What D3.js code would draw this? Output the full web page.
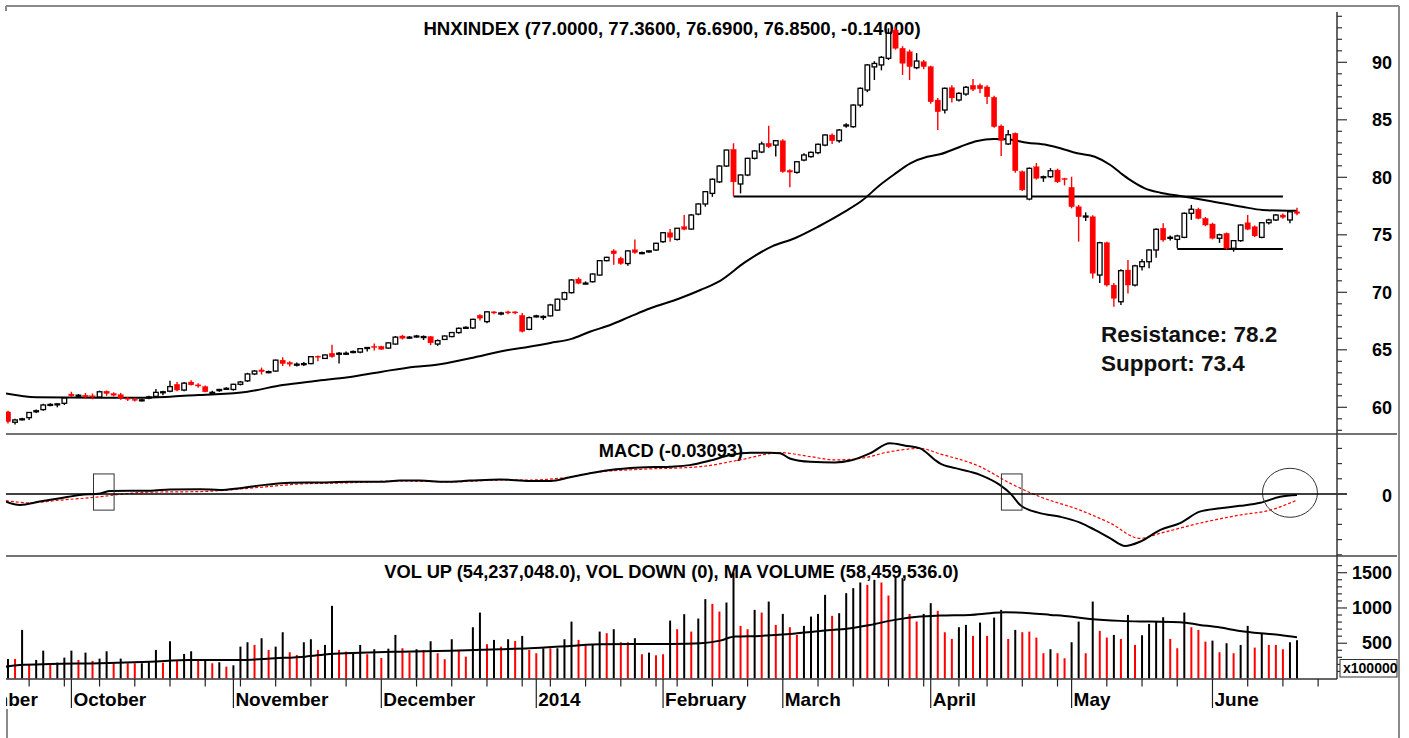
<!DOCTYPE html>
<html lang="en">
<head>
<meta charset="UTF-8">
<title>HNXINDEX</title>
<script src="https://d3js.org/d3.v7.min.js"></script>
<style>
  body { margin: 0; background: #fff; }
  svg { display: block; font-family: "Liberation Sans", Arial, sans-serif; font-weight: bold; }
</style>
</head>
<body>
<svg id="chart" width="1409" height="738"></svg>
<script>
// ---- data ----
const months = ["September", "October", "November", "December", "2014", "February", "March", "April", "May", "June"];
const monthStart = [-10, 9, 32, 53, 75, 93, 110, 131, 151, 171];
const weekTicks = [3, 8, 13, 18, 23, 28, 33, 38, 43, 48, 58, 63, 68, 73, 77, 82, 87, 92, 95, 100, 105, 115, 120, 125, 130, 135, 139, 144, 149, 156, 161, 166, 176, 181, 186];

// [open, high, low, close] per trading day
const ohlc = [
  [59.6,59.7,58.6,58.75],[58.7,59.0,58.5,58.9],[58.95,59.1,58.85,59.0],[59.1,59.6,58.9,59.55],[59.65,59.8,59.5,59.7],
  [59.8,60.3,59.7,60.2],[60.2,60.35,60.1,60.25],[60.25,60.35,60.0,60.3],[60.35,60.85,60.2,60.8],[61.15,61.35,60.9,61.0],
  [61.0,61.15,60.85,61.05],[61.05,61.25,60.75,60.9],[61.0,61.2,60.7,60.9],[60.9,61.45,60.85,61.35],[61.4,61.45,61.0,61.2],
  [61.2,61.3,60.95,61.05],[61.1,61.25,60.65,60.8],[60.8,60.9,60.55,60.7],[60.7,60.8,60.5,60.6],[60.6,60.75,60.5,60.65],
  [60.8,61.0,60.7,60.9],[60.95,61.6,60.9,61.3],[61.3,61.45,61.05,61.35],[61.4,62.3,61.3,61.8],[62.0,62.2,61.4,61.5],
  [61.5,62.2,61.4,62.1],[62.2,62.35,61.9,61.95],[61.95,62.1,61.7,61.85],[61.8,61.9,61.3,61.35],[61.3,61.45,61.2,61.3],
  [61.45,61.6,61.35,61.55],[61.6,61.75,61.5,61.65],[61.55,62.05,61.45,62.0],[62.0,62.3,61.9,62.2],[62.3,63.0,62.2,62.9],
  [62.9,63.25,62.8,63.15],[63.25,63.45,62.85,63.1],[63.05,63.2,62.95,63.1],[63.15,64.15,63.1,64.1],[64.1,64.35,63.6,63.8],
  [63.9,64.0,63.55,63.75],[63.75,63.9,63.55,63.75],[63.8,63.95,63.6,63.8],[63.8,64.45,63.75,64.4],[64.45,64.5,64.0,64.35],
  [64.25,64.6,64.2,64.55],[64.7,65.45,64.3,64.4],[64.65,64.8,63.8,64.7],[64.7,64.85,64.55,64.7],[64.8,64.95,64.7,64.85],
  [64.8,65.15,64.7,65.1],[65.15,65.25,64.85,65.2],[65.3,65.55,64.95,65.2],[65.3,65.35,65.0,65.05],[65.15,65.65,65.1,65.6],
  [65.5,66.2,65.45,66.1],[66.2,66.3,65.9,66.0],[66.05,66.2,65.95,66.1],[66.15,66.3,66.05,66.2],[66.15,66.25,65.85,66.15],
  [66.15,66.2,65.4,65.6],[65.5,65.9,65.35,65.8],[65.9,66.25,65.85,66.2],[66.15,66.55,66.1,66.5],[66.5,66.95,66.4,66.87],
  [66.9,67.05,66.8,66.95],[66.9,67.7,66.8,67.65],[68.0,68.1,67.55,67.75],[67.45,68.35,67.3,68.3],[68.3,68.35,68.1,68.2],
  [68.2,68.3,68.0,68.2],[68.3,68.4,68.1,68.2],[68.3,68.35,68.1,68.2],[68.0,68.2,66.5,66.6],[66.78,67.9,66.7,67.8],
  [67.9,68.05,67.8,67.95],[67.9,68.0,67.6,67.9],[67.95,69.0,67.9,68.9],[68.45,69.45,68.4,69.4],[69.4,70.05,69.3,69.97],
  [69.97,71.15,69.9,71.07],[71.15,71.3,70.7,70.78],[70.8,70.95,70.7,70.8],[70.92,71.65,70.85,71.59],[71.5,72.8,71.45,72.75],
  [72.75,73.1,72.7,73.04],[73.6,73.75,72.4,73.35],[72.96,73.1,72.4,72.5],[72.5,73.65,72.3,73.6],[73.7,74.6,73.35,73.45],
  [73.45,73.55,73.3,73.45],[73.55,73.65,73.45,73.6],[73.68,74.3,73.6,74.26],[74.4,75.25,74.3,75.18],[75.18,75.5,74.4,74.78],
  [74.6,75.6,74.5,75.57],[75.7,76.72,75.4,75.48],[75.5,76.8,75.45,76.72],[76.8,77.75,76.7,77.68],[77.68,78.8,77.45,78.75],
  [78.6,79.9,78.3,79.83],[79.6,81.05,79.5,80.98],[80.98,82.4,80.9,82.37],[82.43,82.96,78.37,79.6],[79.42,80.25,78.6,80.2],
  [80.2,81.7,80.1,81.65],[81.65,82.35,81.55,82.29],[82.2,83.1,82.1,82.9],[82.96,84.49,82.55,82.66],[82.8,83.25,81.8,83.18],
  [83.18,83.3,80.4,80.49],[80.6,80.7,79.13,80.45],[80.43,81.4,80.3,81.35],[81.5,82.1,81.4,81.94],[81.8,82.25,81.7,82.17],
  [82.14,82.95,82.0,82.87],[82.8,83.75,82.7,83.68],[83.68,83.8,82.9,83.18],[83.18,84.2,83.0,84.11],[84.5,84.7,84.3,84.55],
  [84.4,86.35,84.3,86.28],[86.28,87.8,86.1,87.74],[87.59,89.85,87.4,89.77],[89.6,90.1,88.46,89.9],[89.77,90.55,89.3,90.43],
  [90.35,92.96,90.2,92.52],[92.8,93.1,91.1,91.22],[91.22,91.4,88.9,89.91],[90.92,91.1,88.46,89.62],[89.53,90.8,89.4,90.11],
  [90.05,90.2,89.4,89.62],[89.62,89.7,86.4,86.57],[86.72,86.9,84.11,85.7],[85.85,87.8,85.55,87.74],[87.8,88.0,86.5,86.9],
  [86.72,87.4,86.6,87.3],[87.24,87.95,87.1,87.83],[88.0,88.55,87.5,87.65],[88.0,88.15,87.3,87.7],[87.86,88.0,86.37,87.0],
  [86.96,87.1,84.3,84.4],[84.46,84.6,81.85,83.2],[82.9,84.11,82.8,83.7],[83.83,83.9,80.4,80.57],[80.49,80.6,78.8,78.9],
  [78.11,80.85,78.0,80.78],[80.92,81.24,79.8,79.91],[80.05,80.15,79.6,80.05],[80.05,80.8,79.95,80.57],[80.63,80.75,79.5,79.6],
  [79.9,79.95,79.3,79.8],[79.13,80.05,77.3,77.44],[77.44,77.6,74.4,76.57],[76.63,76.95,76.2,76.63],[76.57,76.7,71.2,71.65],
  [71.5,74.4,70.8,74.31],[74.31,74.4,70.5,70.63],[70.63,70.8,68.75,69.47],[69.18,72.0,68.9,71.88],[71.94,72.81,69.9,70.63],
  [70.63,72.4,70.5,72.3],[72.23,72.9,71.9,72.66],[72.66,73.75,72.1,73.68],[73.68,75.55,73.0,75.48],[75.57,76.0,74.4,74.55],
  [74.78,74.95,74.5,74.78],[74.6,75.0,73.83,74.9],[74.78,76.95,74.7,76.87],[76.87,77.6,76.3,77.22],[77.22,77.35,76.35,76.43],
  [76.43,76.55,75.75,75.85],[75.94,76.05,74.6,74.7],[74.7,75.1,74.3,75.0],[75.13,75.2,73.7,73.83],[73.83,74.55,73.53,74.49],
  [74.49,75.9,74.4,75.85],[76.05,76.72,75.4,75.48],[75.7,75.8,74.8,74.9],[74.78,76.1,74.7,76.05],[76.05,76.4,75.9,76.29],
  [76.29,76.8,76.2,76.72],[76.72,76.85,76.4,76.52],[76.29,77.1,76.0,77.0],[77.0,77.36,76.69,76.85]
];

// moving average of price, read at sample bars
const maIdx = [-0.3, 4, 13, 19, 23, 27, 29.5, 34, 39, 43.6, 48.3, 53.1, 57.8, 60.6, 65.6, 70.8, 74, 77, 80, 82.6, 85.5, 88.3, 91.2, 95.4, 98.3, 101.1, 104.6, 108.4, 111.7, 115, 118.8, 121.3, 123.8, 125.7, 128.1, 130.5, 132.3, 135.2, 137.6, 139.9, 141.8, 144.7, 147.5, 149.4, 151.8, 154.3, 156.5, 157.9, 159.3, 161.4, 163.6, 166.4, 170.4, 175.2, 178.1, 181.7, 183];
const maVal = [61.2, 60.87, 60.83, 60.83, 60.92, 61.07, 61.13, 61.36, 61.94, 62.29, 62.61, 63.1, 63.53, 63.68, 64.26, 64.96, 65.27, 65.6, 65.95, 66.57, 67.16, 67.88, 68.61, 69.48, 70.2, 71.0, 72.6, 73.97, 74.7, 75.7, 77.01, 78.0, 79.33, 80.2, 81.22, 81.79, 82.0, 82.66, 83.16, 83.33, 83.3, 83.01, 82.81, 82.52, 82.09, 81.79, 81.07, 80.4, 79.77, 79.04, 78.66, 78.37, 77.97, 77.44, 77.16, 77.1, 77.1];

// MACD and its signal line
const macdIdx = [-0.3, 1.7, 4.5, 7.4, 10.2, 13.1, 14.5, 20.2, 23, 27.3, 30.1, 32.9, 36.5, 40, 44.3, 48.6, 52.8, 55.7, 58.5, 62, 65.6, 69.9, 74.1, 77, 79.8, 82.6, 85.5, 89.7, 94, 96.8, 99.7, 102.5, 105.4, 108.2, 109.6, 111, 113.9, 117.4, 119.6, 122.4, 125.2, 127.4, 129.5, 131.6, 132.3, 134.5, 138, 140.8, 142.3, 143.7, 146.5, 149.4, 152.2, 154.3, 156.5, 158.6, 160.7, 163.6, 166.4, 169.2, 172.1, 174.9, 177.8, 180.6, 183];
const macdVal = [-0.25, -0.36, -0.25, -0.14, -0.03, 0.02, 0.10, 0.11, 0.15, 0.16, 0.13, 0.19, 0.30, 0.37, 0.38, 0.40, 0.40, 0.44, 0.44, 0.40, 0.44, 0.48, 0.43, 0.43, 0.55, 0.68, 0.79, 0.87, 0.90, 0.95, 1.10, 1.28, 1.36, 1.36, 1.34, 1.17, 1.06, 1.04, 1.10, 1.34, 1.67, 1.59, 1.50, 1.12, 1.01, 0.85, 0.63, 0.30, 0.02, -0.36, -0.63, -0.75, -0.94, -1.18, -1.46, -1.71, -1.57, -1.18, -0.96, -0.58, -0.47, -0.39, -0.29, -0.09, -0.03];
const sigIdx = [-0.3, 3.1, 7.4, 13.1, 15.9, 20.2, 27.3, 35.8, 41.5, 48.6, 55.7, 62.8, 69.9, 74.1, 78.4, 84.1, 89.7, 98.3, 103.9, 109.6, 113.9, 117.4, 121, 125.2, 129.5, 132.3, 138, 142.3, 146.5, 152.2, 156.5, 160.7, 163.6, 169.2, 174.9, 179.2, 183];
const sigVal = [-0.22, -0.29, -0.20, -0.09, -0.01, 0.06, 0.08, 0.22, 0.33, 0.37, 0.43, 0.40, 0.46, 0.46, 0.52, 0.73, 0.81, 0.90, 1.12, 1.36, 1.23, 1.12, 1.17, 1.39, 1.50, 1.32, 0.90, 0.35, -0.09, -0.53, -0.96, -1.46, -1.29, -0.96, -0.69, -0.53, -0.20];

// volume in units of 100,000 shares; 1 = up (black), 0 = down (red)
const volume = [
  277, 277, 689, 192, 263, 395, 192, 225, 296, 395,
  263, 367, 249, 282, 386, 216, 282, 216, 216, 216,
  230, 405, 225, 528, 263, 348, 386, 249, 254, 216,
  230, 168, 187, 452, 514, 476, 571, 405, 452, 656,
  372, 334, 514, 557, 405, 476, 1030, 405, 381, 348,
  476, 344, 415, 291, 423, 618, 429, 367, 415, 405,
  528, 358, 273, 557, 405, 310, 727, 935, 486, 547,
  452, 557, 533, 604, 405, 358, 429, 429, 429, 557,
  807, 547, 476, 486, 665, 642, 699, 514, 514, 571,
  344, 367, 329, 344, 821, 699, 912, 665, 850, 1125,
  1058, 949, 1077, 1500, 746, 699, 973, 935, 1091, 760,
  916, 727, 618, 746, 878, 916, 1186, 888, 926, 1210,
  1281, 1361, 1328, 1399, 1361, 1176, 1446, 1423, 916, 807,
  916, 1068, 959, 656, 561, 727, 760, 604, 793, 604,
  864, 973, 561, 689, 656, 665, 580, 358, 415, 358,
  287, 514, 807, 358, 1091, 675, 580, 618, 561, 902,
  476, 613, 774, 807, 869, 561, 429, 935, 727, 689,
  523, 537, 372, 500, 358, 476, 746, 438, 632, 476,
  476, 415, 514, 542
];
const volUp = [
  1,0,1,0,1,1,0,1,1,1, 0,1,0,1,1,0,1,0,0,1, 1,1,0,1,0,1,1,0,1,0,
  1,0,1,1,1,0,1,0,1,1, 0,0,1,1,0,1,1,0,0,1, 1,0,1,0,1,1,0,0,1,0,
  1,0,0,1,0,0,1,1,0,1, 0,1,0,1,0,0,1,0,1,1, 1,0,0,1,1,0,1,0,0,1,
  0,1,0,0,1,0,1,0,1,1, 0,0,1,1,0,0,1,0,1,0, 1,0,0,1,1,1,1,0,1,1,
  1,1,0,1,0,0,1,1,0,0, 1,1,0,0,0,1,1,0,1,0, 1,1,0,1,0,0,0,0,1,0,
  0,1,1,0,1,0,0,1,0,1, 0,1,1,1,1,0,0,1,0,0, 0,1,0,1,0,1,1,0,1,0,
  0,0,1,1
];
const vmaIdx = [-0.3, 1.7, 6, 13.1, 20.2, 25.8, 32.9, 37.9, 42.2, 45.7, 50, 55.7, 62.8, 69.9, 74.1, 79.8, 84.1, 94, 98.3, 101.1, 103.2, 106.8, 111, 115.3, 119.6, 122.4, 125.9, 129.5, 132.3, 136.6, 139.4, 141.6, 145.1, 148, 150.8, 153.6, 157.9, 162.1, 166.4, 169.2, 172.1, 174.9, 177.8, 180.6, 183];
const vmaVal = [168, 192, 206, 216, 239, 263, 263, 287, 310, 348, 366, 381, 395, 415, 429, 462, 486, 490, 500, 537, 594, 604, 632, 675, 713, 760, 831, 878, 892, 902, 926, 940, 926, 902, 878, 845, 817, 807, 798, 760, 722, 675, 642, 618, 585];

// drawn support / resistance levels and their labels
const levelVal = [78.33, 73.77];
const levelFrom = [103, 166];
const levelTo = [181, 181];
const notes = ["Resistance: 78.2", "Support: 73.4"];

// MACD crossing marks
const boxIdx = [13.6, 142.5];
const circleIdx = 182;

// ---- layout ----
const svg = d3.select("#chart");
const left = 6, axisX = 1337;
const red = "#ff0000";

const x = d3.scaleLinear().domain([0, 183]).range([8, 1297]);
const yP = d3.scaleLinear().domain([60, 90]).range([407.3, 62.3]);
const yM = d3.scaleLinear().domain([-1, 1]).range([524.4, 463.6]);
const yV = d3.scaleLinear().domain([0, 1500]).range([678.5, 572.7]);

const defs = svg.append("defs");
function clip(id, y0, y1) {
  defs.append("clipPath").attr("id", id)
    .append("rect").attr("x", left).attr("y", y0).attr("width", axisX - left).attr("height", y1 - y0);
}
clip("cP", 6, 434);
clip("cM", 434, 556);
clip("cV", 556, 679);
clip("cX", 679, 738);

// frame
svg.append("line").attr("x1", left).attr("x2", 1399).attr("y1", 6).attr("y2", 6)
  .attr("stroke", "#8a8a8a").attr("stroke-width", 2);
svg.append("line").attr("x1", left).attr("x2", left).attr("y1", 6).attr("y2", 11)
  .attr("stroke", "#8a8a8a").attr("stroke-width", 2);
svg.append("line").attr("x1", 1399).attr("x2", 1399).attr("y1", 6).attr("y2", 738)
  .attr("stroke", "#8a8a8a").attr("stroke-width", 2);
svg.append("line").attr("x1", 7).attr("x2", 7).attr("y1", 709).attr("y2", 738)
  .attr("stroke", "#8a8a8a").attr("stroke-width", 2);
[434, 556].forEach(yy => svg.append("line")
  .attr("x1", left).attr("x2", 1397).attr("y1", yy).attr("y2", yy)
  .attr("stroke", "#444").attr("stroke-width", 1.5));

// panel titles (drawn first so that marks sit on top)
svg.append("text").attr("x", 672).attr("y", 34.5).attr("text-anchor", "middle")
  .attr("font-size", 18.6).text("HNXINDEX (77.0000, 77.3600, 76.6900, 76.8500, -0.14000)");
svg.append("text").attr("x", 671).attr("y", 456.7).attr("text-anchor", "middle")
  .attr("font-size", 18.3).text("MACD (-0.03093)");
svg.append("text").attr("x", 671.5).attr("y", 578.3).attr("text-anchor", "middle")
  .attr("font-size", 18.3).text("VOL UP (54,237,048.0), VOL DOWN (0), MA VOLUME (58,459,536.0)");

// ---- price panel ----
const gP = svg.append("g").attr("clip-path", "url(#cP)");

const maLine = d3.line().x(d => x(d[0])).y(d => yP(d[1])).curve(d3.curveMonotoneX);
gP.append("path").datum(maIdx.map((d, i) => [d, maVal[i]]))
  .attr("d", maLine).attr("fill", "none").attr("stroke", "#000").attr("stroke-width", 2);

levelVal.forEach((v, k) => {
  gP.append("line").attr("x1", x(levelFrom[k])).attr("x2", x(levelTo[k]))
    .attr("y1", yP(v)).attr("y2", yP(v)).attr("stroke", "#000").attr("stroke-width", 2);
});

const candle = gP.selectAll("g.candle").data(ohlc).join("g").attr("class", "candle");
candle.append("line")
  .attr("x1", (d, i) => x(i)).attr("x2", (d, i) => x(i))
  .attr("y1", d => yP(d[1])).attr("y2", d => yP(d[2]))
  .attr("stroke", d => d[3] < d[0] ? red : "#000").attr("stroke-width", 1.4);
candle.append("rect")
  .attr("x", (d, i) => x(i) - (d[3] < d[0] ? 2.7 : 2.3))
  .attr("width", d => d[3] < d[0] ? 5.4 : 4.6)
  .attr("y", d => yP(Math.max(d[0], d[3])))
  .attr("height", d => Math.max(1, Math.abs(yP(d[0]) - yP(d[3]))))
  .attr("fill", d => d[3] < d[0] ? red : "#fff")
  .attr("stroke", d => d[3] < d[0] ? red : "#000")
  .attr("stroke-width", d => d[3] < d[0] ? 0.3 : 1.3);

notes.forEach((t, k) => {
  svg.append("text").attr("x", 1101).attr("y", 341.7 + k * 29).attr("font-size", 22.5)
    .attr("fill", "#111").text(t);
});

// ---- MACD panel ----
const gM = svg.append("g").attr("clip-path", "url(#cM)");
svg.append("line").attr("x1", left).attr("x2", axisX + 10).attr("y1", yM(0)).attr("y2", yM(0))
  .attr("stroke", "#000").attr("stroke-width", 1.3);
const mLine = d3.line().x(d => x(d[0])).y(d => yM(d[1])).curve(d3.curveMonotoneX);
gM.append("path").datum(sigIdx.map((d, i) => [d, sigVal[i]]))
  .attr("d", mLine).attr("fill", "none").attr("stroke", red).attr("stroke-width", 1.2)
  .attr("stroke-dasharray", "3,2");
gM.append("path").datum(macdIdx.map((d, i) => [d, macdVal[i]]))
  .attr("d", mLine).attr("fill", "none").attr("stroke", "#000").attr("stroke-width", 2);
boxIdx.forEach(b => {
  gM.append("rect").attr("x", x(b) - 10.3).attr("width", 20.6)
    .attr("y", yM(0.66)).attr("height", yM(-0.53) - yM(0.66))
    .attr("fill", "none").attr("stroke", "#333").attr("stroke-width", 1);
});
gM.append("ellipse").attr("cx", x(circleIdx)).attr("cy", yM(0.04)).attr("rx", 27.5).attr("ry", 24.5)
  .attr("fill", "none").attr("stroke", "#333").attr("stroke-width", 1);

// ---- volume panel ----
const gV = svg.append("g").attr("clip-path", "url(#cV)");
gV.selectAll("line.vol").data(volume).join("line").attr("class", "vol")
  .attr("x1", (d, i) => x(i)).attr("x2", (d, i) => x(i))
  .attr("y1", yV(0)).attr("y2", d => yV(d))
  .attr("stroke", (d, i) => volUp[i] ? "#000" : red).attr("stroke-width", 2);
gV.append("path").datum(vmaIdx.map((d, i) => [d, vmaVal[i]]))
  .attr("d", d3.line().x(d => x(d[0])).y(d => yV(d[1])).curve(d3.curveMonotoneX))
  .attr("fill", "none").attr("stroke", "#000").attr("stroke-width", 2);

// ---- right axis ----
const ax = svg.append("g");
ax.append("line").attr("x1", axisX).attr("x2", axisX).attr("y1", 12).attr("y2", 679)
  .attr("stroke", "#333").attr("stroke-width", 1.5);
d3.range(58, 95).forEach(v => {
  const major = v % 5 === 0;
  ax.append("line").attr("x1", axisX).attr("x2", axisX + (major ? 10 : 5))
    .attr("y1", yP(v)).attr("y2", yP(v)).attr("stroke", "#333").attr("stroke-width", 1.2);
  if (major && v >= 60 && v <= 90)
    ax.append("text").attr("x", 1392).attr("y", yP(v) + 6.5).attr("text-anchor", "end")
      .attr("font-size", 18).text(v);
});
d3.range(-3.5, 4, 0.5).forEach(v => {
  const yy = yM(v);
  if (yy < 440 || yy > 555 || v === 0) return;
  ax.append("line").attr("x1", axisX).attr("x2", axisX + 5).attr("y1", yy).attr("y2", yy)
    .attr("stroke", "#333").attr("stroke-width", 1.2);
});
ax.append("text").attr("x", 1392).attr("y", yM(0) + 7.5).attr("text-anchor", "end")
  .attr("font-size", 18).text("0");
d3.range(100, 1800, 100).forEach(v => {
  const yy = yV(v);
  if (yy < 560) return;
  const major = v % 500 === 0;
  ax.append("line").attr("x1", axisX).attr("x2", axisX + (major ? 10 : 5)).attr("y1", yy).attr("y2", yy)
    .attr("stroke", "#333").attr("stroke-width", 1.2);
  if (major)
    ax.append("text").attr("x", 1392).attr("y", yy + 6).attr("text-anchor", "end")
      .attr("font-size", 18).text(v);
});
ax.append("rect").attr("x", 1340).attr("y", 659.5).attr("width", 57).attr("height", 17.5)
  .attr("fill", "#fff").attr("stroke", "#333").attr("stroke-width", 1);
ax.append("text").attr("x", 1343).attr("y", 673).attr("font-size", 14).text("x100000");

// ---- time axis ----
svg.append("line").attr("x1", left).attr("x2", axisX).attr("y1", 679).attr("y2", 679)
  .attr("stroke", "#333").attr("stroke-width", 1.5);
const gX = svg.append("g").attr("clip-path", "url(#cX)");
weekTicks.forEach(t => {
  gX.append("line").attr("x1", x(t)).attr("x2", x(t)).attr("y1", 679).attr("y2", 686.5)
    .attr("stroke", "#222").attr("stroke-width", 1.2);
});
months.forEach((m, k) => {
  const xx = x(monthStart[k]);
  gX.append("line").attr("x1", xx).attr("x2", xx).attr("y1", 679).attr("y2", 708)
    .attr("stroke", "#222").attr("stroke-width", 1.2);
  gX.append("text").attr("x", xx + 2).attr("y", 705.7).attr("font-size", 19).text(m);
});
</script>
</body>
</html>
